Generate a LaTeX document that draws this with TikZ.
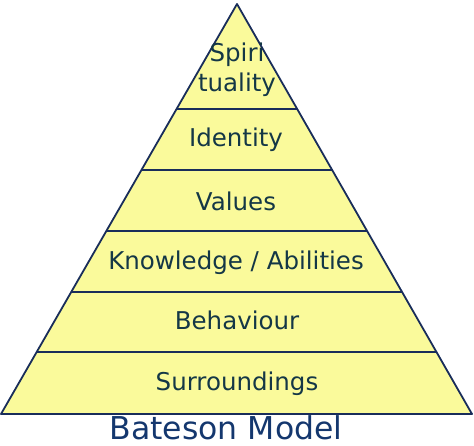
\documentclass[tikz,border=0pt]{standalone}
\usepackage{fontspec}
\setmainfont{DejaVu Sans}
\usepackage{xcolor}
\usepackage{tikz}
\usetikzlibrary{calc, positioning}
\definecolor{batyellow}{RGB}{250,250,155}
\definecolor{batline}{RGB}{25,45,90}
\definecolor{battext}{RGB}{20,55,70}
\definecolor{battitle}{RGB}{20,55,110}

\begin{document}
\begin{tikzpicture}[x=1pt, y=-1pt,
    layer/.style={text=battext, font=\fontsize{24.5}{27}\selectfont, align=center, anchor=base}]
        \useasboundingbox (0,0) rectangle (474,445);
        \coordinate (apex) at (237,4);
        \coordinate (bl) at (1,414);
        \coordinate (br) at (472,414);
        \draw[batline, fill=batyellow, line width=1.8pt, line join=round] (apex) -- (bl) -- (br) -- cycle;
        \foreach \t in {0.256, 0.4049, 0.5537, 0.7024, 0.8488}{
          \draw[batline, line width=1.8pt] ($(apex)!\t!(bl)$) -- ($(apex)!\t!(br)$);
        }
        \node[layer, anchor=center] (spirit) at (237,70) {Spiri\\[3pt]tuality};
        \node[layer] (ident) at (236,146) {Identity};
        \node[layer] (values) at (236,210) {Values};
        \node[layer] (know) at (236,269) {Knowledge / Abilities};
        \node[layer] (behav) at (237,329) {Behaviour};
        \node[layer] (surr) at (237,390) {Surroundings};
        \node[text=battitle, font=\fontsize{31.5}{36}\selectfont, anchor=base, inner sep=0pt] (title) at (226,439) {Bateson Model};
      \end{tikzpicture}
\end{document}
